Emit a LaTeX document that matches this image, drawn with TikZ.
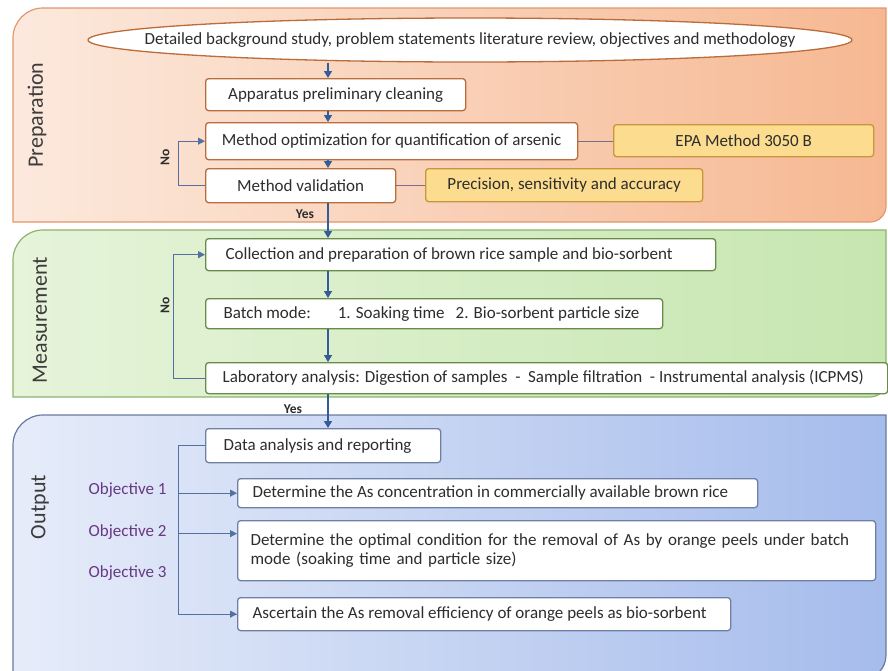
\documentclass[tikz,border=0pt]{standalone}
\usepackage{fontspec}
\setmainfont{Carlito}
\usepackage{tikz}
\usetikzlibrary{arrows.meta,shapes.geometric}

\definecolor{prepfill}{RGB}{252,233,221}
\definecolor{prepfilldark}{RGB}{246,184,146}
\definecolor{prepedge}{RGB}{224,152,110}
\definecolor{prepbox}{RGB}{186,108,58}
\definecolor{notefill}{RGB}{252,220,142}
\definecolor{noteedge}{RGB}{200,150,62}
\definecolor{measfill}{RGB}{230,244,218}
\definecolor{measfilldark}{RGB}{198,230,176}
\definecolor{measedge}{RGB}{140,180,110}
\definecolor{measbox}{RGB}{104,140,72}
\definecolor{outfill}{RGB}{230,236,249}
\definecolor{outfilldark}{RGB}{166,188,236}
\definecolor{outedge}{RGB}{105,122,160}
\definecolor{outbox}{RGB}{112,128,165}
\definecolor{flowblue}{RGB}{52,92,152}
\definecolor{loopblue}{RGB}{84,112,160}
\definecolor{linkgray}{RGB}{120,110,140}
\definecolor{objpurple}{RGB}{104,56,132}
\definecolor{textgray}{RGB}{45,45,45}

\newcommand{\boxfont}{\fontsize{17}{19}\selectfont}

\begin{document}
\begin{tikzpicture}[x=1pt, y=-1pt,
    every node/.style={text=textgray, font=\boxfont},
    stepbox/.style={draw, fill=white, rounded corners=3pt, line width=1.3pt,
      anchor=north west, inner sep=0pt},
    lefttext/.style={execute at begin node={\hbox to #1\bgroup},
      execute at end node={\hfil\egroup}},
    prepstep/.style={stepbox, draw=prepbox},
    notebox/.style={stepbox, draw=noteedge, fill=notefill},
    measstep/.style={stepbox, draw=measbox},
    outstep/.style={stepbox, draw=outbox},
    flow/.style={draw=flowblue, line width=1.4pt, -{Triangle[length=7pt,width=8pt]}},
    loop/.style={draw=loopblue, line width=0.9pt, -{Triangle[length=7pt,width=7pt]}},
    branch/.style={draw=loopblue, line width=1pt},
    link/.style={draw=linkgray, line width=1pt},
    yeslabel/.style={font=\fontsize{13.5}{15}\selectfont\bfseries},
    nolabel/.style={yeslabel, rotate=90},
    panellabel/.style={rotate=90, text={rgb,255:red,60;green,60;blue,60},
      font=\fontsize{22}{24}\selectfont},
    objlabel/.style={anchor=east, text=objpurple}]

    \useasboundingbox (0,0) rectangle (888,670);
    \fill[white] (0,0) rectangle (888,670);

    % panels
    \path[draw=prepedge, line width=1.2pt, left color=prepfill, right color=prepfilldark]
      (13,222) -- (13,80) [rounded corners=30pt] -- (13,8) -- (400,8) [sharp corners]
      -- (886,8) -- (886,100) [rounded corners=16pt] -- (886,222) -- (400,222)
      [sharp corners] -- (13,222) -- cycle;
    \path[draw=measedge, line width=1.2pt, left color=measfill, right color=measfilldark]
      (13,397) -- (13,300) [rounded corners=30pt] -- (13,230) -- (400,230) [sharp corners]
      -- (886,230) -- (886,300) [rounded corners=16pt] -- (886,397) -- (400,397)
      [sharp corners] -- (13,397) -- cycle;
    \path[draw=outedge, line width=1.2pt, left color=outfill, right color=outfilldark]
      (13,680) -- (13,500) [rounded corners=30pt] -- (13,415) -- (400,415) [sharp corners]
      -- (886,415) -- (886,500) [rounded corners=25pt] -- (886,680) -- (400,680)
      [sharp corners] -- (13,680) -- cycle;

    \node[panellabel] (preplabel) at (37,115) {Preparation};
    \node[panellabel] (measlabel) at (40,320) {Measurement};
    \node[panellabel] (outlabel) at (40,507) {Output};

    \coordinate (mainx) at (328,0);
    \coordinate (prepno) at (178,0);
    \coordinate (measno) at (173,0);
    \coordinate (spine) at (178,0);

    % preparation
    \node[ellipse, draw=prepbox, fill=white, line width=1.3pt, inner sep=0pt,
      minimum width=764pt, minimum height=44pt] (background) at (470,40)
      {\makebox[540pt]{Detailed background study, problem statements literature review, objectives and methodology}};
    \node[prepstep, minimum width=260pt, minimum height=32pt] (cleaning) at (205,78)
      {Apparatus preliminary cleaning};
    \node[prepstep, minimum width=372pt, minimum height=37pt] (optimize) at (205,122)
      {Method optimization for quantification of arsenic};
    \node[notebox, minimum width=260pt, minimum height=32pt] (epa) at (613,124)
      {EPA Method 3050 B};
    \node[prepstep, minimum width=190pt, minimum height=34pt] (validate) at (205,168)
      {Method validation};
    \node[notebox, minimum width=277pt, minimum height=33pt] (precision) at (425,168)
      {Precision, sensitivity and accuracy};

    % measurement
    \node[measstep, minimum height=32pt, inner xsep=20pt, lefttext=470pt] (collect) at (205,238)
      {Collection and preparation of brown rice sample and bio-sorbent};
    \node[measstep, minimum height=30pt, inner xsep=18pt, lefttext=421pt] (batch) at (205,298)
      {Batch mode:\hspace{27pt}1. Soaking time\hspace{11pt}2. Bio-sorbent particle size};
    \node[measstep, minimum height=31pt, inner xsep=17pt, lefttext=648pt] (lab) at (205,362)
      {Laboratory analysis: Digestion of samples\ \ -\ \ Sample filtration\ \ - Instrumental analysis (ICPMS)};

    % output
    \node[outstep, minimum height=34pt, inner xsep=18pt, lefttext=199pt] (data) at (205,428)
      {Data analysis and reporting};
    \node[outstep, minimum height=29pt, inner xsep=15pt, lefttext=490pt] (outcome1) at (237,478)
      {Determine the As concentration in commercially available brown rice};
    \node[outstep, minimum height=60pt, inner xsep=13pt, text width=612pt, align=left] (outcome2) at (237,520)
      {Determine the optimal condition for the removal of As by orange peels under batch\\
       mode (soaking time and particle size)};
    \node[outstep, minimum height=33pt, inner xsep=15pt, lefttext=463pt] (outcome3) at (237,597)
      {Ascertain the As removal efficiency of orange peels as bio-sorbent};

    \node[objlabel] (objective1) at (170,490) {Objective 1};
    \node[objlabel] (objective2) at (170,532) {Objective 2};
    \node[objlabel] (objective3) at (170,573) {Objective 3};

    % connectors
    \draw[flow] (mainx |- background.south) -- (mainx |- cleaning.north);
    \draw[flow] (mainx |- cleaning.south) -- (mainx |- optimize.north);
    \draw[flow] (mainx |- optimize.south) -- (mainx |- validate.north);
    \draw[flow] (mainx |- validate.south) -- node[yeslabel, pos=0.3, left=10pt] (yes1) {Yes}
      (mainx |- collect.north);
    \draw[loop] (validate.west) -- (prepno |- validate.west) |- (optimize.west);
    \node[nolabel] (no1) at (165,157) {No};
    \draw[link] (optimize.east) -- (optimize.east -| epa.west);
    \draw[link] (validate.east) -- (validate.east -| precision.west);

    \draw[flow] (mainx |- collect.south) -- (mainx |- batch.north);
    \draw[flow] (mainx |- batch.south) -- (mainx |- lab.north);
    \draw[flow] (mainx |- lab.south) -- node[yeslabel, pos=0.43, left=22pt] (yes2) {Yes}
      (mainx |- data.north);
    \draw[loop] (lab.west) -- (measno |- lab.west) |- (collect.west);
    \node[nolabel] (no2) at (165,305) {No};

    \coordinate (outcome2in) at ([yshift=17pt]outcome2.west);
    \draw[branch] (data.west) -- (spine |- data.west) |- (outcome3.west);
    \draw[loop] (spine |- outcome3.west) -- (outcome3.west);
    \draw[loop] (spine |- outcome1.west) -- (outcome1.west);
    \draw[loop] (spine |- outcome2in) -- (outcome2in);
\end{tikzpicture}
\end{document}
